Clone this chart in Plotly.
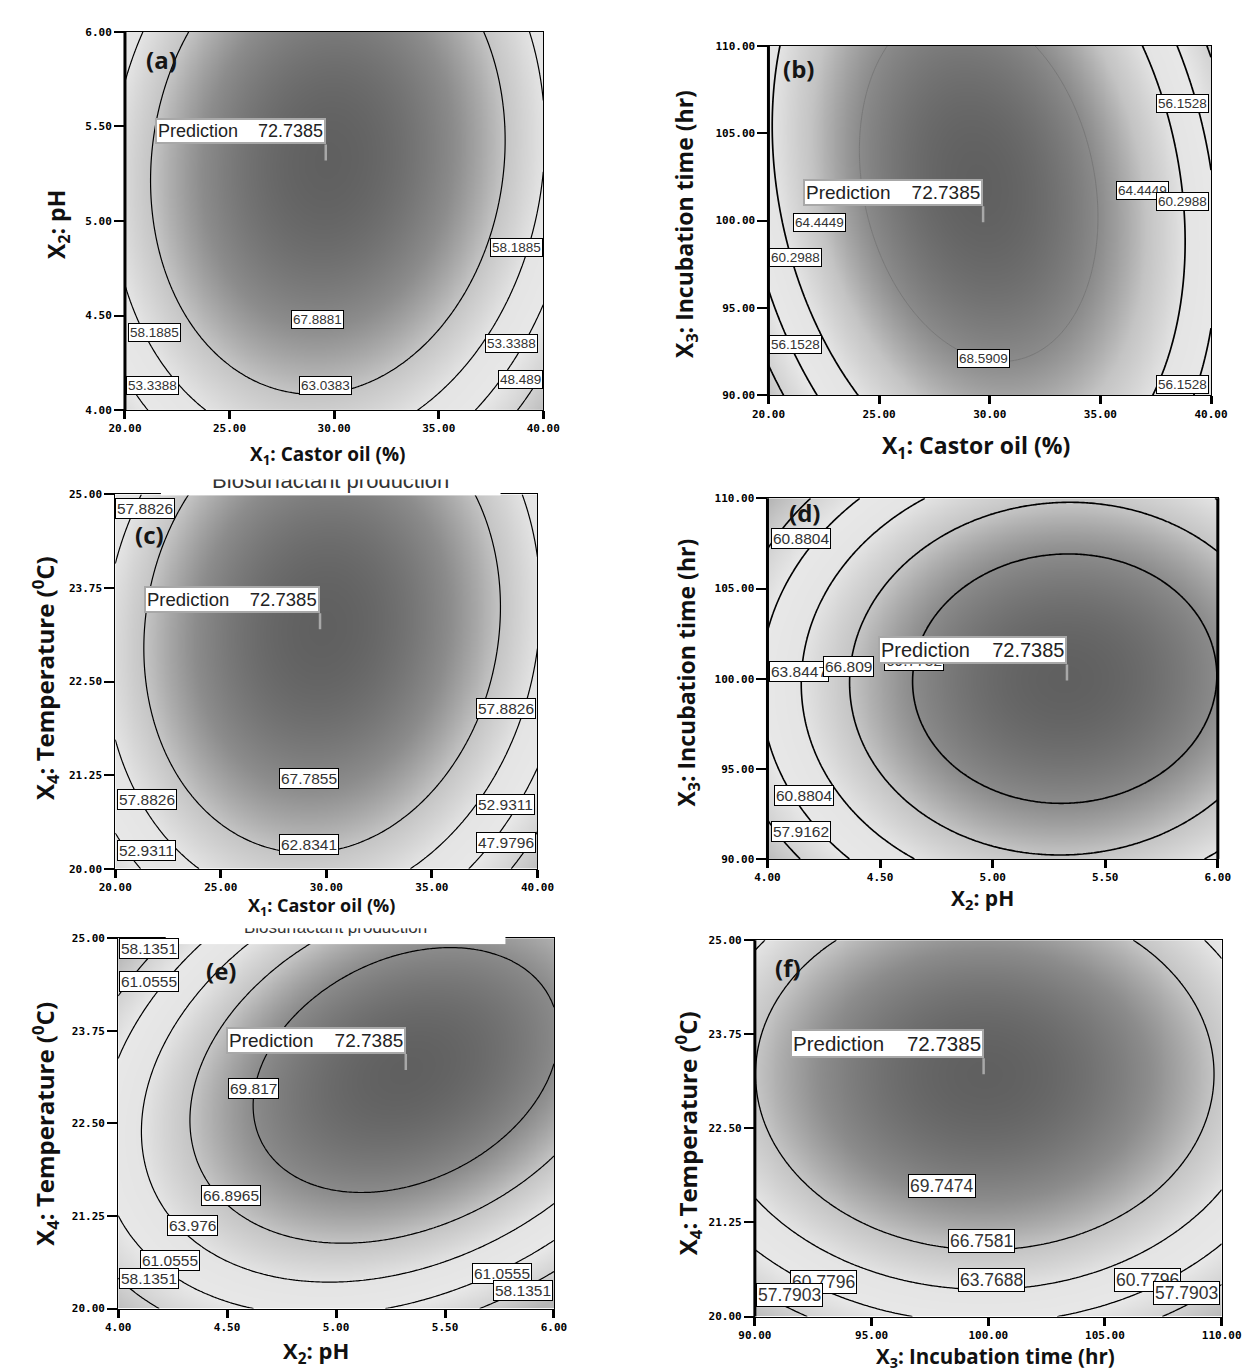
import numpy as np
import plotly.graph_objects as go

W, H = 1257, 1372
PEAK = 72.7385  # predicted value shown in every panel

# ---------------- data ----------------
castor_range = [20.0, 40.0]
ph_range = [4.0, 6.0]
time_range = [90.0, 110.0]
temp_range = [20.0, 25.0]

castor_ticks = [20.0, 25.0, 30.0, 35.0, 40.0]
ph_ticks = [4.0, 4.5, 5.0, 5.5, 6.0]
time_ticks = [90.0, 95.0, 100.0, 105.0, 110.0]
temp_ticks = [20.0, 21.25, 22.5, 23.75, 25.0]

# contour levels
levels_a = [48.489, 53.3388, 58.1885, 63.0383, 67.8881]
levels_b = [51.9928, 56.1528, 60.2988, 64.4449, 68.5909]
levels_c = [47.9796, 52.9311, 57.8826, 62.8341, 67.7855]
levels_d = [57.9162, 60.8804, 63.8447, 66.809, 69.7732]
levels_e = [58.1351, 61.0555, 63.976, 66.8965, 69.817]
levels_f = [57.7903, 60.7796, 63.7688, 66.7581, 69.7474]

# quadratic response-surface slices: [x_opt, y_opt, A, B, C] (coded units)
# z = PEAK - A*du^2 - B*dv^2 + C*du*dv
model_a = [29.7, 5.32, 13.6, 6.4, 1.6]
model_b = [29.5, 102.1, 14.8, 4.16, -2.96]
model_c = [29.8, 23.22, 14.0, 6.9, 1.8]
model_d = [5.32, 100.0, 6.5, 6.2, 0.3]
model_e = [5.32, 23.22, 6.5, 7.3, 4.0]
model_f = [99.85, 23.22, 6.2, 6.85, 0.0]

# prediction flag points
pred_a = [29.6, 5.32]
pred_b = [29.7, 99.9]
pred_c = [29.7, 23.2]
pred_d = [5.33, 99.9]
pred_e = [5.32, 23.22]
pred_f = [99.8, 23.22]

# cut-off graph title seen above panels (c) and (e)
graph_title = 'Biosurfactant production'

# ---------------- layout ----------------
panels = [
    dict(key='a', xr=castor_range, yr=ph_range, xt=castor_ticks, yt=ph_ticks, lv=levels_a, m=model_a, p=pred_a,
         box=(103, 534, 18, 400), xtitle='<b>X<sub>1</sub>: Castor oil (%)</b>', ytitle='<b>X<sub>2</sub>: pH</b>',
         xtpos=(312, 445, 19), ytpos=(34, 212, 23), letter=(141, 46), lw=1.2, thick=(True, False), lfs=13.5,
         pfs=18, labels=[(4, 29.2, 4.48), (3, 29.6, 4.13), (2, 21.4, 4.41), (2, 38.7, 4.86), (1, 21.3, 4.13),
                         (1, 38.5, 4.35), (0, 38.9, 4.16)]),
    dict(key='b', xr=castor_range, yr=time_range, xt=castor_ticks, yt=time_ticks, lv=levels_b, m=model_b, p=pred_b,
         box=(766, 1222, 32, 385), xtitle='<b>X<sub>1</sub>: Castor oil (%)</b>',
         ytitle='<b>X<sub>3</sub>: Incubation time (hr)</b>',
         xtpos=(980, 437, 23), ytpos=(681, 212, 23), letter=(797, 55), lw=1.7, thick=(True, False), lfs=13.5,
         pfs=19, labels=[(1, 38.7, 106.7), (3, 36.9, 101.7), (2, 38.7, 101.1), (3, 22.3, 99.9), (2, 21.2, 97.9),
                         (1, 21.2, 92.9), (4, 29.7, 92.1), (1, 38.7, 90.6)]),
    dict(key='c', xr=castor_range, yr=temp_range, xt=castor_ticks, yt=temp_ticks, lv=levels_c, m=model_c, p=pred_c,
         box=(93, 528, 485, 863), xtitle='<b>X<sub>1</sub>: Castor oil (%)</b>',
         ytitle='<b>X<sub>4</sub>: Temperature (<sup>0</sup>C)</b>',
         xtpos=(305, 901, 18), ytpos=(20, 670, 24), letter=(128, 525), lw=1.2, thick=(False, False), lfs=15.5,
         pfs=18.5, labels=[(2, 21.4, 24.81), (2, 38.5, 22.14), (4, 29.2, 21.2), (2, 21.5, 20.93), (1, 38.5, 20.86),
                           (3, 29.2, 20.33), (0, 38.5, 20.35), (1, 21.5, 20.24)]),
    dict(key='d', xr=ph_range, yr=time_range, xt=ph_ticks, yt=time_ticks, lv=levels_d, m=model_d, p=pred_d,
         box=(765, 1229, 489, 853), xtitle='<b>X<sub>2</sub>: pH</b>',
         ytitle='<b>X<sub>3</sub>: Incubation time (hr)</b>',
         xtpos=(987, 893, 21), ytpos=(683, 665, 23), letter=(803, 503), lw=1.6, thick=(True, True), lfs=15.5,
         pfs=20, labels=[(1, 4.15, 107.75), (2, 4.14, 100.4), (4, 4.65, 101.0), (3, 4.36, 100.7), (1, 4.16, 93.5),
                         (0, 4.15, 91.5)]),
    dict(key='e', xr=ph_range, yr=temp_range, xt=ph_ticks, yt=temp_ticks, lv=levels_e, m=model_e, p=pred_e,
         box=(96, 545, 933, 1307), xtitle='<b>X<sub>2</sub>: pH</b>',
         ytitle='<b>X<sub>4</sub>: Temperature (<sup>0</sup>C)</b>',
         xtpos=(300, 1351, 22), ytpos=(21, 1120, 24), letter=(202, 966), lw=1.2, thick=(False, False), lfs=15.5,
         pfs=19, labels=[(0, 4.14, 24.86), (1, 4.14, 24.41), (4, 4.62, 22.97), (3, 4.52, 21.53), (2, 4.34, 21.12),
                         (1, 4.24, 20.65), (0, 4.14, 20.4), (1, 5.76, 20.48), (0, 5.86, 20.25)]),
    dict(key='f', xr=time_range, yr=temp_range, xt=time_ticks, yt=temp_ticks, lv=levels_f, m=model_f, p=pred_f,
         box=(752, 1233, 935, 1315), xtitle='<b>X<sub>3</sub>: Incubation time (hr)</b>',
         ytitle='<b>X<sub>4</sub>: Temperature (<sup>0</sup>C)</b>',
         xtpos=(1000, 1356, 20.5), ytpos=(683, 1130, 24), letter=(786, 963), lw=1.3, thick=(True, False),
         lfs=17.5, pfs=20.5, labels=[(4, 98.0, 21.74), (3, 99.7, 21.0), (2, 100.15, 20.48), (1, 92.95, 20.46),
                                     (0, 91.5, 20.29), (1, 106.8, 20.48), (0, 108.5, 20.31)]),
]

# grayscale version of the blue->green->yellow->red map
gray_scale = [[0.0, 'rgb(182,182,182)'], [0.17, 'rgb(210,210,210)'], [0.33, 'rgb(232,232,232)'],
              [0.5, 'rgb(228,228,228)'], [0.67, 'rgb(196,196,196)'], [0.83, 'rgb(140,140,140)'],
              [1.0, 'rgb(96,96,96)']]


def fmt(v):
    return f"{v:.4f}".rstrip('0').rstrip('.')


def px_x(px):
    return px / W


def px_y(py):
    return 1 - py / H


fig = go.Figure()
annotations = []
shapes = []
layout_axes = {}

for i, P in enumerate(panels, start=1):
    sx = '' if i == 1 else str(i)
    xa, ya = 'x' + sx, 'y' + sx
    x0, x1 = P['xr']
    y0, y1 = P['yr']
    xh = (x1 - x0) / 2
    yh = (y1 - y0) / 2
    xs = np.linspace(x0, x1, 161)
    ys = np.linspace(y0, y1, 161)
    X, Y = np.meshgrid(xs, ys)
    xo, yo, A, B, C = P['m']
    du = (X - xo) / xh
    dv = (Y - yo) / yh
    Z = PEAK - A * du ** 2 - B * dv ** 2 + C * du * dv

    lv = P['lv']
    step = lv[1] - lv[0]
    zmin = lv[0] - step
    gray_inner = P['key'] == 'b'
    end = lv[-2] if gray_inner else lv[-1]
    fig.add_trace(go.Contour(
        x=xs, y=ys, z=Z, xaxis=xa, yaxis=ya, colorscale=gray_scale, zmin=zmin, zmax=PEAK,
        showscale=False, autocontour=False,
        contours=dict(start=lv[0], end=end + 1e-6, size=step, coloring='heatmap', showlabels=False),
        line=dict(color='black', width=P['lw']), hoverinfo='skip'))
    if gray_inner:
        fig.add_trace(go.Contour(
            x=xs, y=ys, z=Z, xaxis=xa, yaxis=ya, showscale=False, autocontour=False,
            contours=dict(start=lv[-1], end=lv[-1], size=1, coloring='none', showlabels=False),
            line=dict(color='rgb(120,120,120)', width=1.0), hoverinfo='skip'))

    l, r, t, b = P['box']
    axis_common = dict(showgrid=False, zeroline=False, showline=True, linecolor='black', linewidth=1,
                       mirror=True, ticks='outside', tickcolor='black',
                       tickfont=dict(family='DejaVu Sans Mono', size=11, color='black', weight='bold'))
    layout_axes['xaxis' + sx] = dict(axis_common, domain=[px_x(l), px_x(r)], range=[x0, x1],
                                     tickvals=P['xt'], ticktext=[f"{v:.2f}" for v in P['xt']],
                                     ticklen=8, tickwidth=3, anchor=ya)
    layout_axes['yaxis' + sx] = dict(axis_common, domain=[px_y(b), px_y(t)], range=[y0, y1],
                                     tickvals=P['yt'], ticktext=[f"{v:.2f}" for v in P['yt']],
                                     ticklen=10, tickwidth=1.5, anchor=xa)
    for side, on in zip((0, 1), P['thick']):
        if on:
            shapes.append(dict(type='line', xref=xa + ' domain', yref=ya + ' domain', x0=side, x1=side,
                               y0=0, y1=1, line=dict(color='black', width=3)))

    # axis titles
    tx, ty, ts = P['xtpos']
    annotations.append(dict(xref='paper', yref='paper', x=px_x(tx), y=px_y(ty), text=P['xtitle'],
                            xanchor='center', yanchor='middle', showarrow=False,
                            font=dict(family='Open Sans', size=ts, color='#111')))
    tx, ty, ts = P['ytpos']
    annotations.append(dict(xref='paper', yref='paper', x=px_x(tx), y=px_y(ty), text=P['ytitle'],
                            xanchor='center', yanchor='middle', showarrow=False, textangle=-90,
                            font=dict(family='Open Sans', size=ts, color='#111')))
    # panel letter
    lx, ly = P['letter']
    annotations.append(dict(xref='paper', yref='paper', x=px_x(lx), y=px_y(ly), text='<b>(' + P['key'] + ')</b>',
                            xanchor='center', yanchor='middle', showarrow=False,
                            font=dict(family='Open Sans', size=24, color='#151515')))
    # contour labels
    for k, lxv, lyv in P['labels']:
        annotations.append(dict(xref=xa, yref=ya, x=lxv, y=lyv, text=fmt(lv[k]), showarrow=False,
                                xanchor='center', yanchor='middle',
                                bgcolor='white', bordercolor='black', borderwidth=1, borderpad=1,
                                font=dict(family='Liberation Sans', size=P['lfs'], color='#333')))
    # prediction flag
    annotations.append(dict(xref=xa, yref=ya, x=P['p'][0], y=P['p'][1],
                            text='Prediction' + '\u00a0' * 4 + fmt(PEAK), showarrow=True, arrowhead=0,
                            arrowwidth=2.5, arrowcolor='#a8a8a8', ax=0, ay=-16, xanchor='right', yanchor='bottom',
                            bgcolor='white', bordercolor='#a8a8a8', borderwidth=2, borderpad=1,
                            font=dict(family='Liberation Sans', size=P['pfs'], color='#222')))

# partially hidden graph titles (only the lower half of the text shows) above (c) and (e)
for j, (l, r, t, b, yy, fs) in enumerate([(140, 490, 470, 486, 0.8, 22), (145, 495, 923, 939, 0.94, 17)],
                                         start=7):
    sx = str(j)
    layout_axes['xaxis' + sx] = dict(domain=[px_x(l), px_x(r)], range=[0, 1], visible=False, anchor='y' + sx)
    layout_axes['yaxis' + sx] = dict(domain=[px_y(b), px_y(t)], range=[0, 1], visible=False, anchor='x' + sx)
    fig.add_trace(go.Scatter(x=[0.5], y=[yy], mode='text', text=[graph_title], cliponaxis=True,
                             textfont=dict(family='Liberation Sans', size=fs, color='#333'),
                             xaxis='x' + sx, yaxis='y' + sx, hoverinfo='skip'))

fig.update_layout(width=W, height=H, margin=dict(l=0, r=0, t=0, b=0), paper_bgcolor='white',
                  plot_bgcolor='white', showlegend=False, annotations=annotations, shapes=shapes,
                  **layout_axes)
fig.write_html("out.html")
